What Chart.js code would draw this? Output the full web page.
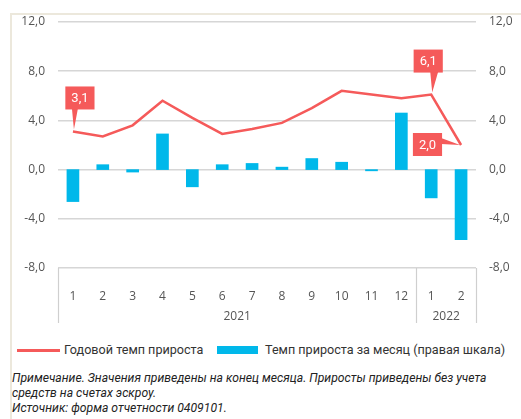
<!DOCTYPE html>
<html>
<head>
<meta charset="utf-8">
<script src="https://cdn.jsdelivr.net/npm/chart.js@4/dist/chart.umd.min.js"></script>
<style>
  body { margin: 0; background: #fff; width: 521px; height: 419px; position: relative; overflow: hidden; }
  #frame { position: absolute; left: 10px; top: 13px; right: 0; bottom: 0; border-top: 2px solid #ece8dc; border-left: 2px solid #ece8dc; }
  #wrap { position: absolute; left: 0; top: 0; width: 521px; height: 335px; }
  .legend { position: absolute; top: 342px; left: 0; width: 521px; height: 16px; font: 12.6px Roboto, sans-serif; color: #333; }
  .legend span { position: absolute; top: 0; white-space: nowrap; }
  .legend i { position: absolute; display: block; }
  .notes { position: absolute; left: 12px; top: 371px; font: italic 12.2px Roboto, sans-serif; line-height: 15px; color: #222; white-space: nowrap; }
</style>
</head>
<body>
<div id="frame"></div>
<div id="wrap"><canvas id="chart"></canvas></div>
<div class="legend">
  <i style="left:17px;top:7px;width:43px;height:3px;background:#f55a5a"></i>
  <span id="lg1" style="left:64px"></span>
  <i style="left:217px;top:4px;width:41px;height:8px;background:#00b8ea"></i>
  <span id="lg2" style="left:265px"></span>
</div>
<div class="notes">
  Примечание. Значения приведены на конец месяца. Приросты приведены без учета<br>
  средств на счетах эскроу.<br>
  Источник: форма отчетности 0409101.
</div>
<script>
// months along the axis, years under them
const months = ['1', '2', '3', '4', '5', '6', '7', '8', '9', '10', '11', '12', '1', '2'];
const years = ['2021', '2022'];
const yearSpans = [12, 2];

// series, %
const annualGrowth = [3.1, 2.7, 3.6, 5.6, 4.2, 2.9, 3.3, 3.8, 5.0, 6.4, 6.1, 5.8, 6.1, 2.0];
const monthlyGrowth = [-2.6, 0.4, -0.2, 2.9, -1.4, 0.4, 0.5, 0.2, 0.9, 0.6, -0.1, 4.6, -2.3, -5.7];
const seriesNames = ['Годовой темп прироста', 'Темп прироста за месяц (правая шкала)'];
const calloutIdx = [0, 12, 13];

const RED = '#f55a5a';
const BLUE = '#00b8ea';
const fmt = (v) => v.toFixed(1).replace('.', ',');

document.getElementById('lg1').textContent = seriesNames[0];
document.getElementById('lg2').textContent = seriesNames[1];

const tableAxis = {
  id: 'tableAxis',
  afterDraw(chart) {
    const { ctx, chartArea } = chart;
    const x = chart.scales.x;
    const half = (x.getPixelForValue(1) - x.getPixelForValue(0)) / 2;
    const top = chartArea.bottom;
    const bottom = top + 55;
    ctx.save();
    ctx.strokeStyle = '#cfcfcf';
    ctx.lineWidth = 1.2;
    // vertical separators: start, between years, end
    let idx = 0;
    const edges = [x.getPixelForValue(0) - half];
    yearSpans.forEach((n) => { idx += n; edges.push(x.getPixelForValue(idx - 1) + half); });
    edges.forEach((ex) => {
      ctx.beginPath();
      ctx.moveTo(Math.round(ex) + 0.5, top);
      ctx.lineTo(Math.round(ex) + 0.5, bottom);
      ctx.stroke();
    });
    ctx.fillStyle = '#555';
    ctx.font = '12px "Open Sans", sans-serif';
    ctx.textAlign = 'center';
    ctx.textBaseline = 'middle';
    years.forEach((y, i) => {
      ctx.fillText(y, (edges[i] + edges[i + 1]) / 2, top + 49);
    });
    ctx.restore();
  },
  afterDatasetsDraw(chart) {
    // red callouts on the line
    const { ctx } = chart;
    const meta = chart.getDatasetMeta(0);
    ctx.save();
    ctx.font = '13px Roboto, sans-serif';
    ctx.textAlign = 'center';
    ctx.textBaseline = 'middle';
    calloutIdx.forEach((i) => {
      const p = meta.data[i];
      const txt = fmt(annualGrowth[i]);
      const w = ctx.measureText(txt).width + 12;
      const h = 23;
      ctx.fillStyle = RED;
      let bx; let by;
      ctx.beginPath();
      if (i === annualGrowth.length - 1) {
        // to the left of the point
        bx = p.x - 19 - w;
        by = p.y - 12;
        ctx.moveTo(bx + w - 1, by + 5);
        ctx.lineTo(p.x - 1, p.y);
        ctx.lineTo(bx + w - 1, by + 11);
      } else {
        const dx = i === 0 ? 7 : -3;
        bx = p.x + dx - w / 2;
        by = p.y - 22 - h;
        ctx.moveTo(p.x - 1, by + h - 1);
        ctx.lineTo(p.x + 1, p.y - 2);
        ctx.lineTo(p.x + (i === 0 ? 5 : 7), by + h - 1);
      }
      ctx.fill();
      ctx.fillRect(bx, by, w, h);
      ctx.fillStyle = '#fff';
      ctx.fillText(txt, bx + w / 2, by + h / 2 + 1);
    });
    ctx.restore();
  },
};

const tickFont = { family: '"Open Sans", sans-serif', size: 12 };

new Chart(document.getElementById('chart'), {
  type: 'bar',
  data: {
    labels: months,
    datasets: [
      {
        type: 'line',
        label: seriesNames[0],
        data: annualGrowth,
        borderColor: RED,
        borderWidth: 2.5,
        pointRadius: 0,
        tension: 0,
        yAxisID: 'y',
        order: 1,
      },
      {
        label: seriesNames[1],
        data: monthlyGrowth,
        backgroundColor: BLUE,
        barThickness: 12,
        yAxisID: 'y2',
        order: 2,
      },
    ],
  },
  options: {
    responsive: true,
    maintainAspectRatio: false,
    animation: false,
    layout: { padding: { top: 22, right: 0, bottom: 0, left: 0 } },
    plugins: {
      legend: { display: false },
      tooltip: { enabled: false },
    },
    scales: {
      x: {
        grid: { display: false },
        border: { display: false },
        ticks: { color: '#555', font: tickFont, padding: 13, maxRotation: 0, autoSkip: false },
        afterFit: (s) => { s.height = 67; },
      },
      y: {
        position: 'left',
        min: -8,
        max: 12,
        grid: { color: '#d6d6d6', lineWidth: 1.5, drawTicks: false },
        border: { display: false },
        ticks: { stepSize: 4, color: '#555', font: tickFont, padding: 13, callback: (v) => fmt(v) },
        afterFit: (s) => { s.width = 58; },
      },
      y2: {
        position: 'right',
        min: -8,
        max: 12,
        grid: { display: false, drawTicks: false },
        border: { display: false },
        ticks: { stepSize: 4, color: '#555', font: tickFont, padding: 13, callback: (v) => fmt(v) },
        afterFit: (s) => { s.width = 45; },
      },
    },
  },
  plugins: [tableAxis],
});
</script>
</body>
</html>
